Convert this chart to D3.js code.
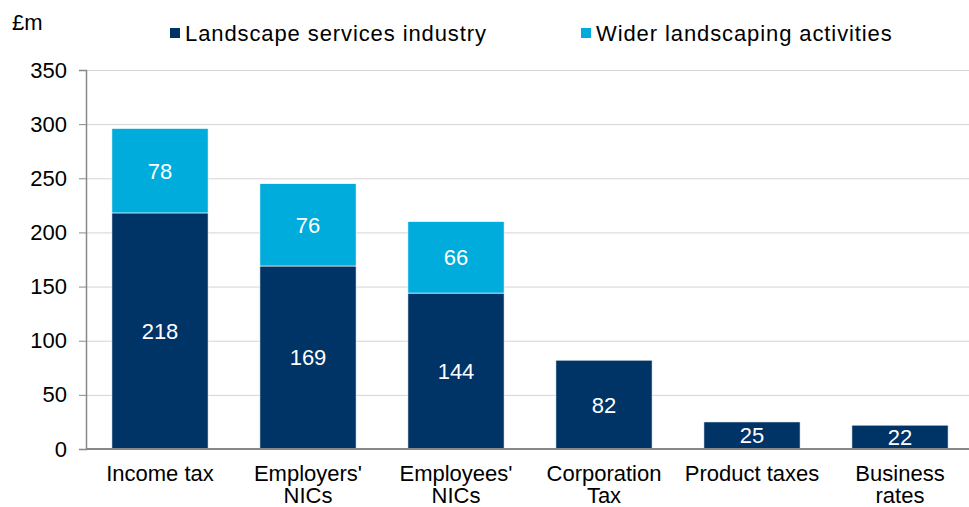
<html>
<script src="https://d3js.org/d3.v7.min.js"></script>
<body style="margin:0">
<svg width=969 height=507></svg>
<script>
	// data
	var categories = [["Income tax"], ["Employers'", "NICs"], ["Employees'", "NICs"], ["Corporation", "Tax"], ["Product taxes"], ["Business", "rates"]];
	var landscape = [218, 169, 144, 82, 25, 22];
	var wider = [78, 76, 66, 0, 0, 0];
	var seriesNames = ["Landscape services industry", "Wider landscaping activities"];
	var yTicks = [0, 50, 100, 150, 200, 250, 300, 350];

	var colors = ["#003366", "#00acdc"];
	var font = "'Liberation Sans', Arial, Helvetica, sans-serif";
	var fs = "22px";

	var svg = d3.select("svg").style("font-family", font);
	var plotLeft = 86, plotRight = 974, plotTop = 70, plotBottom = 449;

	var x = d3.scaleBand()
		.domain(d3.range(categories.length))
		.range([plotLeft, plotRight])
		.paddingInner(0.35)
		.paddingOuter(0.175);
	var y = d3.scaleLinear().domain([0, 350]).range([plotBottom, plotTop]);

	//------------------------gridlines------------------------//
	svg.append("g").selectAll("line")
		.data(yTicks.slice(1))
		.enter().append("line")
		.attr("x1", plotLeft).attr("x2", 969)
		.attr("y1", d => y(d) + 0.5).attr("y2", d => y(d) + 0.5)
		.style("stroke", "#d4d4d4").style("stroke-width", 1);

	//------------------------bars------------------------//
	var stack = categories.map((c, i) => [
		{ i: i, y0: 0, y1: landscape[i], s: 0 },
		{ i: i, y0: landscape[i], y1: landscape[i] + wider[i], s: 1 }
	]).flat().filter(d => d.y1 > d.y0);

	svg.append("g").selectAll("rect")
		.data(stack)
		.enter().append("rect")
		.attr("x", d => x(d.i))
		.attr("width", x.bandwidth())
		.attr("y", d => y(d.y1))
		.attr("height", d => y(d.y0) - y(d.y1))
		.style("fill", d => colors[d.s])
		.style("stroke", "#ffffff")
		.style("stroke-width", 0.6);

	svg.append("g").selectAll("text")
		.data(stack)
		.enter().append("text")
		.attr("x", d => x(d.i) + x.bandwidth() / 2)
		.attr("y", d => y((d.y0 + d.y1) / 2))
		.attr("dy", "0.36em")
		.attr("text-anchor", "middle")
		.style("fill", "#ffffff")
		.style("font-size", fs)
		.text(d => d.y1 - d.y0);

	//------------------------axes------------------------//
	var yAxis = svg.append("g")
		.attr("transform", "translate(" + plotLeft + ",0)")
		.call(d3.axisLeft(y).tickValues(yTicks).tickSize(7).tickPadding(12));
	yAxis.select(".domain").style("stroke", "#888888").style("stroke-width", 1.5);
	yAxis.selectAll(".tick line").style("stroke", "#888888");
	yAxis.selectAll(".tick text")
		.style("font-family", font).style("font-size", fs).style("fill", "#000");

	svg.append("line")
		.attr("x1", plotLeft).attr("x2", 969)
		.attr("y1", plotBottom).attr("y2", plotBottom)
		.style("stroke", "#888888").style("stroke-width", 2);

	// category labels
	var cat = svg.append("g").selectAll("text")
		.data(categories)
		.enter().append("text")
		.attr("x", (d, i) => x(i) + x.bandwidth() / 2)
		.attr("y", 481)
		.attr("text-anchor", "middle")
		.style("font-size", fs)
		.style("fill", "#000");
	cat.selectAll("tspan")
		.data(d => d)
		.enter().append("tspan")
		.attr("x", function() { return d3.select(this.parentNode).attr("x"); })
		.attr("dy", (d, j) => j === 0 ? 0 : 22)
		.text(d => d);

	// unit
	svg.append("text")
		.attr("x", 12).attr("y", 30)
		.style("font-size", fs)
		.text("£m");

	//------------------------legend------------------------//
	var legendX = [170, 581];
	var legend = svg.append("g").selectAll("g")
		.data(seriesNames)
		.enter().append("g")
		.attr("transform", (d, i) => "translate(" + legendX[i] + ",0)");
	legend.append("rect")
		.attr("x", 0).attr("y", 28)
		.attr("width", 10).attr("height", 10)
		.style("fill", (d, i) => colors[i]);
	legend.append("text")
		.attr("x", 15).attr("y", 41)
		.style("font-size", fs)
		.style("letter-spacing", "0.9px")
		.text(d => d);
</script>
</body>
</html>
